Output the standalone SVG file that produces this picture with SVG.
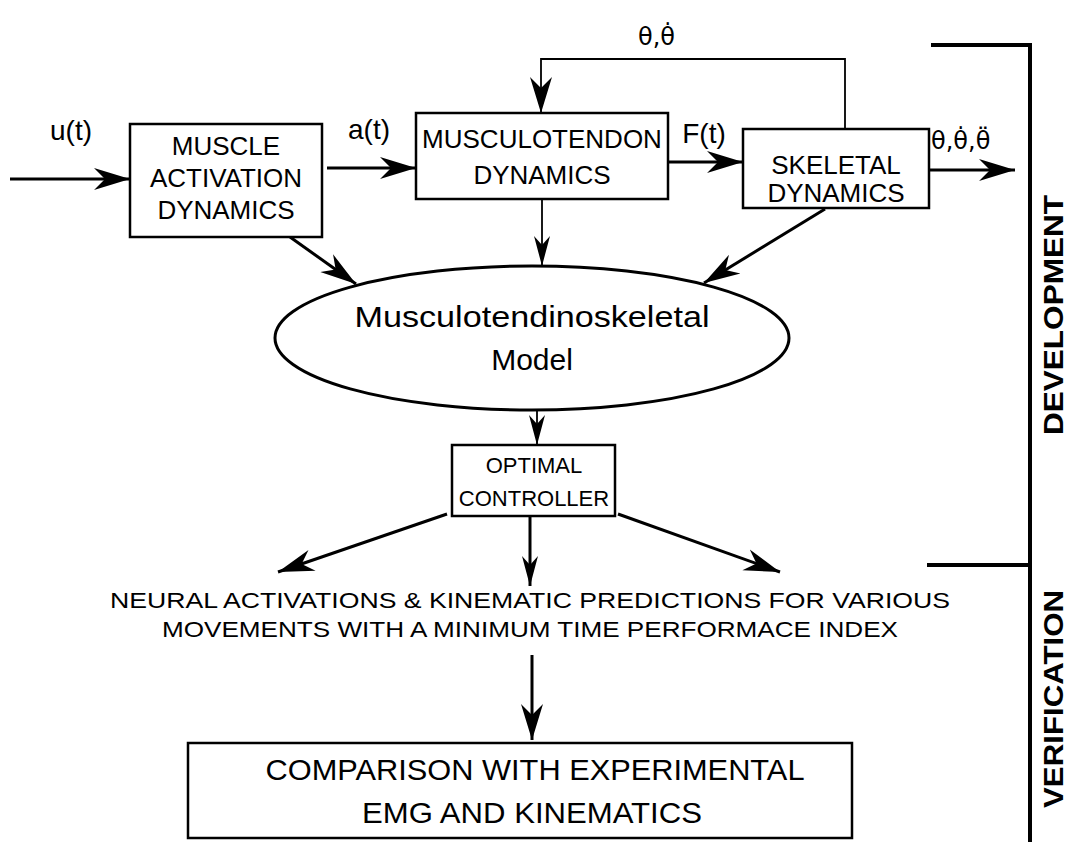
<svg xmlns="http://www.w3.org/2000/svg" width="1075" height="844" viewBox="0 0 1075 844">
<defs>
<marker id="ah" markerUnits="userSpaceOnUse" viewBox="-36 -12 38 24" markerWidth="38" markerHeight="24" refX="0" refY="0" orient="auto">
<path d="M0,0 L-36,-11 L-25,0 L-36,11 Z" fill="#000"/>
</marker>
<marker id="as" markerUnits="userSpaceOnUse" viewBox="-30 -9 32 18" markerWidth="32" markerHeight="18" refX="0" refY="0" orient="auto">
<path d="M0,0 L-30,-8 L-21,0 L-30,8 Z" fill="#000"/>
</marker>
</defs>
<style>
text{font-family:"Liberation Sans",Arial,sans-serif;fill:#000}
.box{fill:#fff;stroke:#000;stroke-width:2.5}
.c{stroke:#000;fill:none;stroke-width:3}
.t{stroke:#000;fill:none;stroke-width:1.8}
.lbl{font-size:26px;text-anchor:middle}
.sm{font-size:22px;text-anchor:middle}
.big{font-size:30px;text-anchor:middle}
.th{font-family:"DejaVu Sans",sans-serif;font-size:24px}
.side{font-size:28px;font-weight:bold;text-anchor:middle}
</style>
<rect width="1075" height="844" fill="#fff"/>

<g id="connectors">
<line class="c" x1="10" y1="179" x2="130" y2="179" marker-end="url(#ah)"/>
<line class="c" x1="327" y1="168" x2="416" y2="168" marker-end="url(#ah)"/>
<line class="c" x1="668" y1="162" x2="743" y2="162" marker-end="url(#ah)"/>
<line class="c" x1="929" y1="170" x2="1015" y2="170" marker-end="url(#ah)"/>
<polyline class="t" points="845,129 845,59 541,59 541,113" marker-end="url(#ah)"/>
<line class="c" x1="290" y1="237" x2="356" y2="284" marker-end="url(#ah)"/>
<line class="t" x1="542" y1="199" x2="542" y2="266" marker-end="url(#as)"/>
<line class="c" x1="825" y1="209" x2="704" y2="283" marker-end="url(#ah)"/>
<line class="t" x1="537" y1="410" x2="537" y2="445" marker-end="url(#as)"/>
<line class="c" x1="447" y1="514" x2="278" y2="572" marker-end="url(#ah)"/>
<line class="c" x1="530" y1="516" x2="530" y2="586" marker-end="url(#as)"/>
<line class="c" x1="618" y1="514" x2="780" y2="572" marker-end="url(#ah)"/>
<line class="c" x1="532" y1="655" x2="532" y2="740" marker-end="url(#ah)"/>
</g>

<g id="labels">
<text x="71" y="140" font-size="28" text-anchor="middle">u(t)</text>
<text x="369" y="139" font-size="28" text-anchor="middle">a(t)</text>
<text x="704" y="143" font-size="28" text-anchor="middle">F(t)</text>
<text class="th" x="638" y="45">θ,θ̇</text>
<text class="th" x="931" y="149">θ,θ̇,θ̈</text>
</g>

<g id="muscle-activation">
<rect class="box" x="130" y="124" width="192" height="113"/>
<text class="lbl" x="226" y="155">MUSCLE</text>
<text class="lbl" x="226" y="187">ACTIVATION</text>
<text class="lbl" x="226" y="219">DYNAMICS</text>
</g>

<g id="musculotendon">
<rect class="box" x="416" y="113" width="252" height="86"/>
<text class="lbl" x="542" y="148">MUSCULOTENDON</text>
<text class="lbl" x="542" y="184">DYNAMICS</text>
</g>

<g id="skeletal">
<rect class="box" x="743" y="129" width="186" height="79"/>
<text class="lbl" x="836" y="174">SKELETAL</text>
<text class="lbl" x="836" y="202">DYNAMICS</text>
</g>

<g id="model">
<ellipse cx="532" cy="338" rx="257" ry="72" fill="#fff" stroke="#000" stroke-width="3"/>
<text class="big" x="532" y="327" textLength="355" lengthAdjust="spacingAndGlyphs">Musculotendinoskeletal</text>
<text class="big" x="532" y="370">Model</text>
</g>

<g id="controller">
<rect class="box" x="452" y="445" width="163" height="71"/>
<text class="sm" x="534" y="473">OPTIMAL</text>
<text class="sm" x="534" y="506">CONTROLLER</text>
</g>

<g id="predictions">
<text x="530" y="608" font-size="22" text-anchor="middle" textLength="840" lengthAdjust="spacingAndGlyphs">NEURAL ACTIVATIONS &amp; KINEMATIC PREDICTIONS FOR VARIOUS</text>
<text x="530" y="637" font-size="22" text-anchor="middle" textLength="736" lengthAdjust="spacingAndGlyphs">MOVEMENTS WITH A MINIMUM TIME PERFORMACE INDEX</text>
</g>

<g id="comparison">
<rect class="box" x="188" y="743" width="664" height="95"/>
<text class="big" x="535" y="780" textLength="539" lengthAdjust="spacingAndGlyphs">COMPARISON WITH EXPERIMENTAL</text>
<text class="big" x="532" y="823" textLength="340" lengthAdjust="spacingAndGlyphs">EMG AND KINEMATICS</text>
</g>

<g id="bracket">
<polyline points="931,45 1030,45 1030,842" fill="none" stroke="#000" stroke-width="4"/>
<line x1="927" y1="565" x2="1030" y2="565" stroke="#000" stroke-width="4"/>
<text class="side" transform="translate(1063,315) rotate(-90)" textLength="240" lengthAdjust="spacingAndGlyphs">DEVELOPMENT</text>
<text class="side" transform="translate(1063,699) rotate(-90)" textLength="218" lengthAdjust="spacingAndGlyphs">VERIFICATION</text>
</g>
</svg>
